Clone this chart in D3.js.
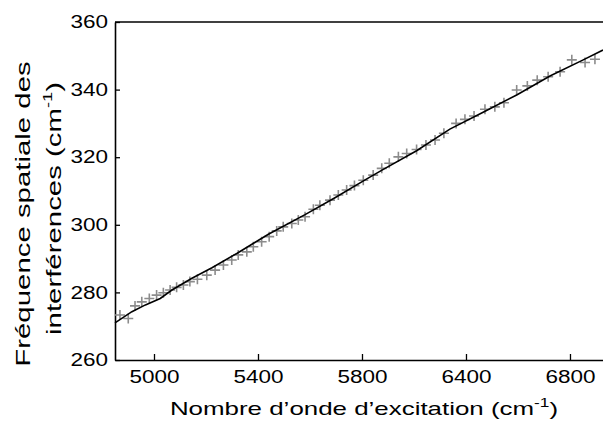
<!DOCTYPE html>
<html>
<head>
<meta charset="utf-8">
<script src="https://cdn.jsdelivr.net/npm/d3@7"></script>
<style>
  body { margin: 0; background: #fff; }
  text { font-family: "Liberation Sans", Arial, sans-serif; fill: #000; }
</style>
</head>
<body>
<svg id="chart" width="603" height="427"></svg>
<script>
// Measured points (excitation wavenumber, interference spatial frequency)
const pointX = [4869, 4901, 4927, 4953, 4982, 5010, 5036, 5062, 5087, 5113, 5138, 5167, 5203, 5235, 5267, 5299, 5324, 5357, 5382, 5414, 5443, 5472, 5497, 5530, 5555, 5581, 5613, 5638, 5677, 5709, 5741, 5771, 5805, 5843, 5876, 5905, 5940, 5972, 6010, 6046, 6081, 6115, 6162, 6196, 6231, 6273, 6311, 6346, 6395, 6436, 6474, 6516, 6562, 6607, 6658, 6696];
const pointY = [273.3, 272.3, 276.0, 277.2, 278.2, 279.2, 279.9, 280.7, 281.5, 282.2, 283.2, 283.9, 285.1, 286.6, 288.1, 289.6, 291.1, 292.0, 293.5, 295.0, 296.5, 298.2, 299.4, 300.4, 301.4, 302.4, 304.6, 305.8, 307.3, 308.8, 310.3, 311.6, 313.2, 314.7, 316.7, 318.2, 320.1, 321.1, 322.3, 323.6, 325.1, 327.1, 330.0, 331.2, 332.2, 334.2, 334.9, 336.1, 339.9, 341.1, 342.8, 343.8, 345.3, 348.8, 348.0, 349.0];
// Theoretical curve
const curveX = [4850, 4915, 4967, 5024, 5069, 5146, 5223, 5320, 5440, 5581, 5696, 5812, 5882, 6010, 6138, 6266, 6395, 6523, 6651, 6727];
const curveY = [271.0, 274.3, 276.3, 278.2, 280.7, 284.2, 287.3, 291.6, 297.2, 303.0, 308.0, 313.3, 316.4, 321.9, 328.3, 333.3, 338.4, 344.0, 348.8, 351.7];
// Axis ticks (labels as printed on the original)
const xTickValues = [5000, 5400, 5800, 6200, 6600];
const xTickLabels = ["5000", "5400", "5800", "6400", "6800"];
const yTickValues = [260, 280, 300, 320, 340, 360];

const svg = d3.select("#chart");
const L = 115, R = 603, T = 22, B = 360;
const x = d3.scaleLinear().domain([4850, 6727]).range([L, R]);
const y = d3.scaleLinear().domain([260, 360]).range([B, T]);
const SX = 1.25; // horizontal stretch of the original lettering

// frame
svg.append("line").attr("x1", L).attr("x2", R).attr("y1", T).attr("y2", T)
  .attr("stroke", "#000").attr("stroke-width", 1.6);

const xAxis = d3.axisBottom(x).tickValues(xTickValues)
  .tickFormat((d, i) => xTickLabels[i]).tickSizeInner(-6).tickSizeOuter(0).tickPadding(10);
const gx = svg.append("g").attr("transform", `translate(0,${B})`).call(xAxis);
gx.select(".domain").attr("stroke-width", 1.6);
gx.selectAll(".tick line").attr("stroke-width", 1.3);
gx.selectAll(".tick text").style("font-size", "18px").attr("dy", "0.75em")
  .attr("transform", `scale(${SX},1)`);

const yAxis = d3.axisLeft(y).tickValues(yTickValues).tickFormat(d3.format("d"))
  .tickSizeInner(-5).tickSizeOuter(0).tickPadding(0);
const gy = svg.append("g").attr("transform", `translate(${L},0)`).call(yAxis);
gy.select(".domain").attr("stroke-width", 1.6);
gy.selectAll(".tick line").attr("stroke-width", 1.3);
gy.selectAll(".tick text").style("font-size", "18px").attr("x", -7 / SX)
  .attr("transform", `scale(${SX},1)`);

// points as + markers
const s = 5;
const pts = d3.range(pointX.length);
svg.append("g").selectAll("path").data(pts).join("path")
  .attr("d", i => {
    const px = x(pointX[i]), py = y(pointY[i]);
    return `M${px - s},${py}H${px + s}M${px},${py - s}V${py + s}`;
  })
  .attr("stroke", "#8c8c8c").attr("stroke-width", 1.6).attr("fill", "none");

// curve
const line = d3.line().x(i => x(curveX[i])).y(i => y(curveY[i]));
svg.append("path").datum(d3.range(curveX.length)).attr("d", line)
  .attr("fill", "none").attr("stroke", "#000").attr("stroke-width", 1.6);

// x label
const XS = 1.44;
const xl = svg.append("g").attr("transform", `translate(364,415) scale(${XS},1)`)
  .append("text").attr("text-anchor", "middle").style("font-size", "18px");
xl.append("tspan").text("Nombre d\u2019onde d\u2019excitation (cm");
xl.append("tspan").attr("dy", -8).style("font-size", "12px").text("-1");
xl.append("tspan").attr("dy", 8).text(")");

// y label (two lines)
const YS = 1.4;
const yl = svg.append("g").attr("transform", `translate(0,211) rotate(-90) scale(${YS},1)`);
yl.append("text").attr("x", -3 / YS).attr("y", 30).attr("text-anchor", "middle")
  .style("font-size", "21px").text("Fr\u00e9quence spatiale des");
const y2 = yl.append("text").attr("x", 2.5 / YS).attr("y", 61).attr("text-anchor", "middle")
  .style("font-size", "21px");
y2.append("tspan").text("interf\u00e9rences (cm");
y2.append("tspan").attr("dy", -9).style("font-size", "13px").text("-1");
y2.append("tspan").attr("dy", 9).text(")");
</script>
</body>
</html>
